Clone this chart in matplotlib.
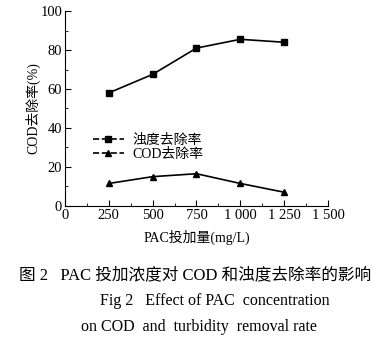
import matplotlib
matplotlib.use("Agg")
import matplotlib.pyplot as plt
from matplotlib.lines import Line2D
from matplotlib.ticker import MultipleLocator

plt.rcParams['font.family'] = ['Liberation Serif', 'Noto Sans CJK SC']

dose = [250, 500, 750, 1000, 1250]
turbidity = [58, 67.5, 81, 85.5, 84]
cod = [11.5, 15, 16.5, 11.5, 7]
xticks = [0, 250, 500, 750, 1000, 1250, 1500]
xticklabels = ['0', '250', '500', '750', '1 000', '1 250', '1 500']

fig = plt.figure(figsize=(3.91, 3.46), dpi=100)
ax = fig.add_axes([0.166, 0.405, 0.673, 0.563])
ax.plot(dose, turbidity, color='black', lw=1.2, marker='s', ms=4)
ax.plot(dose, cod, color='black', lw=1.2, marker='^', ms=5)
ax.set_xlim(0, 1500)
ax.set_ylim(0, 100)
ax.set_xticks(xticks)
ax.set_xticklabels(xticklabels)
ax.set_yticks([0, 20, 40, 60, 80, 100])
ax.xaxis.set_minor_locator(MultipleLocator(125))
ax.yaxis.set_minor_locator(MultipleLocator(10))
ax.tick_params(direction='in', which='both', labelsize=10.5, pad=2)
ax.tick_params(which='major', length=4)
ax.tick_params(which='minor', length=2)
for s in ['top', 'right']:
    ax.spines[s].set_visible(False)
ax.set_xlabel('PAC投加量(mg/L)', fontsize=10, labelpad=6)
ax.set_ylabel('COD去除率(%)', fontsize=10, labelpad=0)

handles = [Line2D([], [], color='black', lw=1.2, ls='--', marker='s', ms=4),
           Line2D([], [], color='black', lw=1.2, ls='--', marker='^', ms=5)]
ax.legend(handles, ['浊度去除率', 'COD去除率'], loc='upper left',
          bbox_to_anchor=(0.07, 0.42), frameon=False, fontsize=10,
          handlelength=2.2, labelspacing=0.05, borderpad=0.2, handletextpad=0.6)

fig.text(0.5, 1 - 275/346, '图 2   PAC 投加浓度对 COD 和浊度去除率的影响', ha='center', va='center', fontsize=12)
fig.text(0.55, 1 - 301/346, 'Fig 2   Effect of PAC  concentration', ha='center', va='center', fontsize=11.5)
fig.text(0.51, 1 - 327/346, 'on COD  and  turbidity  removal rate', ha='center', va='center', fontsize=11.5)

fig.savefig('out.png', dpi=100)
